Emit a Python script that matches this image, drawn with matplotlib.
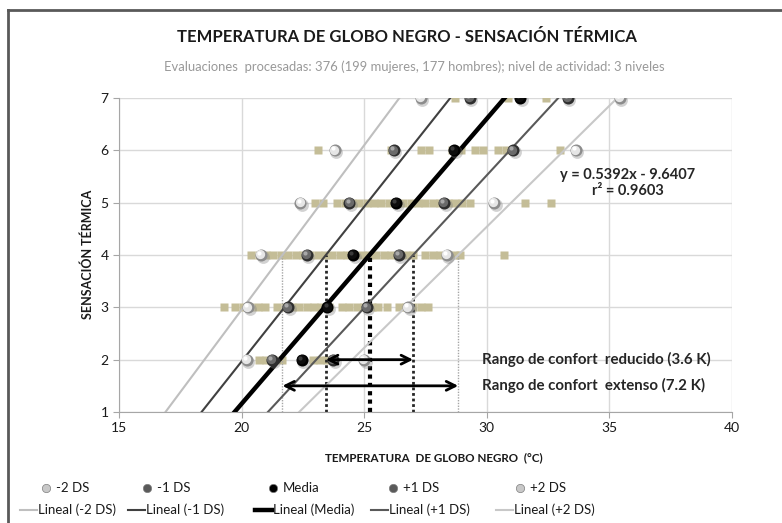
import numpy as np
import matplotlib
matplotlib.use("Agg")
import matplotlib.pyplot as plt
from matplotlib.lines import Line2D
from matplotlib.transforms import offset_copy

plt.rcParams['font.family'] = ['Lato', 'DejaVu Sans']

# ---------------- data ----------------
levels = [2, 3, 4, 5, 6, 7]
x_m2 = [20.2, 20.27, 20.79, 22.4, 23.8, 27.3]      # -2 DS
x_m1 = [21.25, 21.9, 22.65, 24.4, 26.2, 29.3]      # -1 DS
x_med = [22.45, 23.5, 24.55, 26.3, 28.67, 31.35]   # Media
x_p1 = [23.74, 25.1, 26.41, 28.26, 31.07, 33.3]    # +1 DS
x_p2 = [25.0, 26.79, 28.36, 30.29, 33.63, 35.42]   # +2 DS

raw_2 = [20.7, 21.0, 21.3, 21.65, 22.9, 23.2, 23.5]
raw_3 = [19.3, 19.75, 20.05, 20.35, 20.65, 20.95, 21.45, 21.75, 22.05, 22.35,
         22.65, 22.95, 23.25, 23.55, 24.1, 24.4, 24.7, 25.0, 25.3, 25.55,
         25.95, 26.4, 26.7, 27.0, 27.3, 27.6]
raw_4 = [20.4, 20.7, 21.0, 21.3, 21.6, 21.9, 22.2, 22.5, 22.8, 23.1, 23.4,
         23.7, 24.0, 24.3, 24.6, 24.9, 25.2, 25.5, 25.8, 26.1, 26.4, 26.7,
         27.0, 27.5, 27.8, 28.1, 28.4, 28.7, 28.9, 30.7]
raw_5 = [23.0, 23.3, 23.9, 24.2, 24.5, 24.8, 25.1, 25.4, 25.7, 26.0, 26.3,
         26.6, 26.9, 27.2, 27.5, 27.8, 28.1, 28.4, 28.7, 29.0, 29.3, 31.55, 32.6]
raw_6 = [23.1, 26.1, 27.3, 27.65, 28.6, 28.95, 29.5, 29.85, 30.45, 30.8, 33.0]
raw_7 = [28.7, 30.85, 32.4]

series_names = ['-2 DS', '-1 DS', 'Media', '+1 DS', '+2 DS']
eq_text = 'y = 0.5392x - 9.6407\nr² = 0.9603'
comfort_level = 4

# ---------------- figure ----------------
W, H = 782, 523
fig = plt.figure(figsize=(W / 100, H / 100), dpi=100)
ax = fig.add_axes([119 / W, 1 - 412 / H, (732 - 119) / W, (412 - 98) / H])
ax.set_xlim(15, 40)
ax.set_ylim(1, 7)
ax.set_xticks(np.arange(15, 41, 5))
ax.set_yticks(np.arange(1, 8, 1))
ax.grid(True, color='#d9d9d9', lw=1, zorder=0)
ax.set_axisbelow(True)
for s in ['top', 'right']:
    ax.spines[s].set_visible(False)
for s in ['left', 'bottom']:
    ax.spines[s].set_color('#a6a6a6')
ax.tick_params(colors='#a6a6a6', labelcolor='#1a1a1a', labelsize=10, length=4)

# raw data squares
tan = '#c4bd97'
for lv, xs in zip(levels, [raw_2, raw_3, raw_4, raw_5, raw_6, raw_7]):
    ax.plot(xs, [lv] * len(xs), ls='none', marker='s', ms=5.3, color=tan,
            mec='none', zorder=2)

# trend lines
line_styles = {
    '-2 DS': ('#bfbfbf', 1.5),
    '-1 DS': ('#404040', 1.5),
    'Media': ('#000000', 3.2),
    '+1 DS': ('#595959', 1.5),
    '+2 DS': ('#c8c8c8', 1.5),
}
ball_cols = {
    '-2 DS': ('#8c8c8c', '#e6e6e6', '#ffffff'),
    '-1 DS': ('#2e2e2e', '#6a6a6a', '#a8a8a8'),
    'Media': ('#000000', '#0d0d0d', '#3a3a3a'),
    '+1 DS': ('#2e2e2e', '#6a6a6a', '#a8a8a8'),
    '+2 DS': ('#8c8c8c', '#e6e6e6', '#ffffff'),
}
vstyles = {
    '-2 DS': ('#a6a6a6', 1.0),
    '-1 DS': ('#262626', 2.0),
    'Media': ('#000000', 3.0),
    '+1 DS': ('#262626', 2.0),
    '+2 DS': ('#a6a6a6', 1.0),
}
xx = np.linspace(15, 40, 200)
crossings = {}
all_x = [x_m2, x_m1, x_med, x_p1, x_p2]
for name, xs in zip(series_names, all_x):
    m, b = np.polyfit(xs, levels, 1)
    c, lw = line_styles[name]
    ax.plot(xx, m * xx + b, color=c, lw=lw, zorder=3, solid_capstyle='butt')
    crossings[name] = (comfort_level - b) / m

# vertical dotted lines
for name in series_names:
    c, lw = vstyles[name]
    ax.plot([crossings[name]] * 2, [1, comfort_level], color=c, lw=lw,
            ls=(0, (1, 1)), zorder=2.5)

# spheres
shadow_tr = offset_copy(ax.transData, fig=fig, x=1.2, y=-1.5, units='points')
mid_tr = offset_copy(ax.transData, fig=fig, x=-0.6, y=0.6, units='points')
hl_tr = offset_copy(ax.transData, fig=fig, x=-1.3, y=1.4, units='points')
for name, xs in zip(series_names, all_x):
    dark, mid, hl = ball_cols[name]
    ax.scatter(xs, levels, s=85, color='#7f7f7f', alpha=0.35, lw=0,
               transform=shadow_tr, zorder=4)
    ax.scatter(xs, levels, s=75, color=dark, lw=0, zorder=5)
    ax.scatter(xs, levels, s=45, color=mid, lw=0, transform=mid_tr, zorder=6)
    ax.scatter(xs, levels, s=9, color=hl, lw=0, transform=hl_tr, zorder=7)

# comfort range arrows
ax.annotate('', xy=(crossings['+1 DS'], 2), xytext=(crossings['-1 DS'], 2),
            arrowprops=dict(arrowstyle='<->', lw=2, color='black',
                            mutation_scale=16, shrinkA=0, shrinkB=0), zorder=8)
ax.annotate('', xy=(crossings['+2 DS'], 1.5), xytext=(crossings['-2 DS'], 1.5),
            arrowprops=dict(arrowstyle='<->', lw=2, color='black',
                            mutation_scale=16, shrinkA=0, shrinkB=0), zorder=8)
red = crossings['+1 DS'] - crossings['-1 DS']
ext = crossings['+2 DS'] - crossings['-2 DS']
ax.text(29.8, 2, f'Rango de confort  reducido ({red:.1f} K)', fontsize=10.8,
        fontweight='bold', color='#262626', va='center', ha='left')
ax.text(29.8, 1.5, f'Rango de confort  extenso ({ext:.1f} K)', fontsize=10.8,
        fontweight='bold', color='#262626', va='center', ha='left')

ax.text(35.75, 5.38, eq_text, fontsize=10.5, fontweight='bold', color='#262626',
        ha='center', va='center', linespacing=1.2)

# titles and labels
fig.text(407 / W, 1 - 37 / H, 'TEMPERATURA DE GLOBO NEGRO - SENSACIÓN TÉRMICA',
         ha='center', va='center', fontsize=12, fontweight='bold', color='#1a1a1a')
fig.text(414 / W, 1 - 67 / H,
         'Evaluaciones  procesadas: 376 (199 mujeres, 177 hombres); nivel de actividad: 3 niveles',
         ha='center', va='center', fontsize=9.4, color='#999999')
fig.text(434 / W, 1 - 458 / H, 'TEMPERATURA  DE GLOBO NEGRO  (°C)', ha='center',
         va='center', fontsize=8.4, fontweight='bold', color='#1a1a1a')
fig.text(88 / W, 1 - 254 / H, 'SENSACIÓN TÉRMICA', ha='center', va='center',
         rotation=90, fontsize=9, fontweight='bold', color='#1a1a1a')

# frame
fig.add_artist(Line2D([8 / W, 1], [1 - 10 / H] * 2, color='#595959', lw=2,
                      transform=fig.transFigure))
fig.add_artist(Line2D([8 / W] * 2, [0, 1 - 10 / H], color='#595959', lw=2,
                      transform=fig.transFigure))

# legend (two rows, laid out manually)
leg_ball = {'-2 DS': '#c8c8c8', '-1 DS': '#5a5a5a', 'Media': '#000000',
            '+1 DS': '#5a5a5a', '+2 DS': '#c8c8c8'}
row1_x = [46, 147, 273, 393, 520]
row2_x = [20, 128, 255, 371, 496]
row1_y = 1 - 488 / H
row2_y = 1 - 510 / H
for name, px1, px2 in zip(series_names, row1_x, row2_x):
    fig.add_artist(Line2D([px1 / W], [row1_y], ls='none', marker='o', ms=6,
                          color=leg_ball[name], mec='#7f7f7f', mew=0.5,
                          transform=fig.transFigure))
    fig.text((px1 + 10) / W, row1_y, name, fontsize=9.5, va='center',
             ha='left', color='#1a1a1a')
    c, lw = line_styles[name]
    fig.add_artist(Line2D([px2 / W, (px2 + 17) / W], [row2_y] * 2, color=c,
                          lw=lw, transform=fig.transFigure))
    fig.text((px2 + 18) / W, row2_y, f'Lineal ({name})', fontsize=9.5,
             va='center', ha='left', color='#1a1a1a')

fig.savefig('out.png', dpi=100)
